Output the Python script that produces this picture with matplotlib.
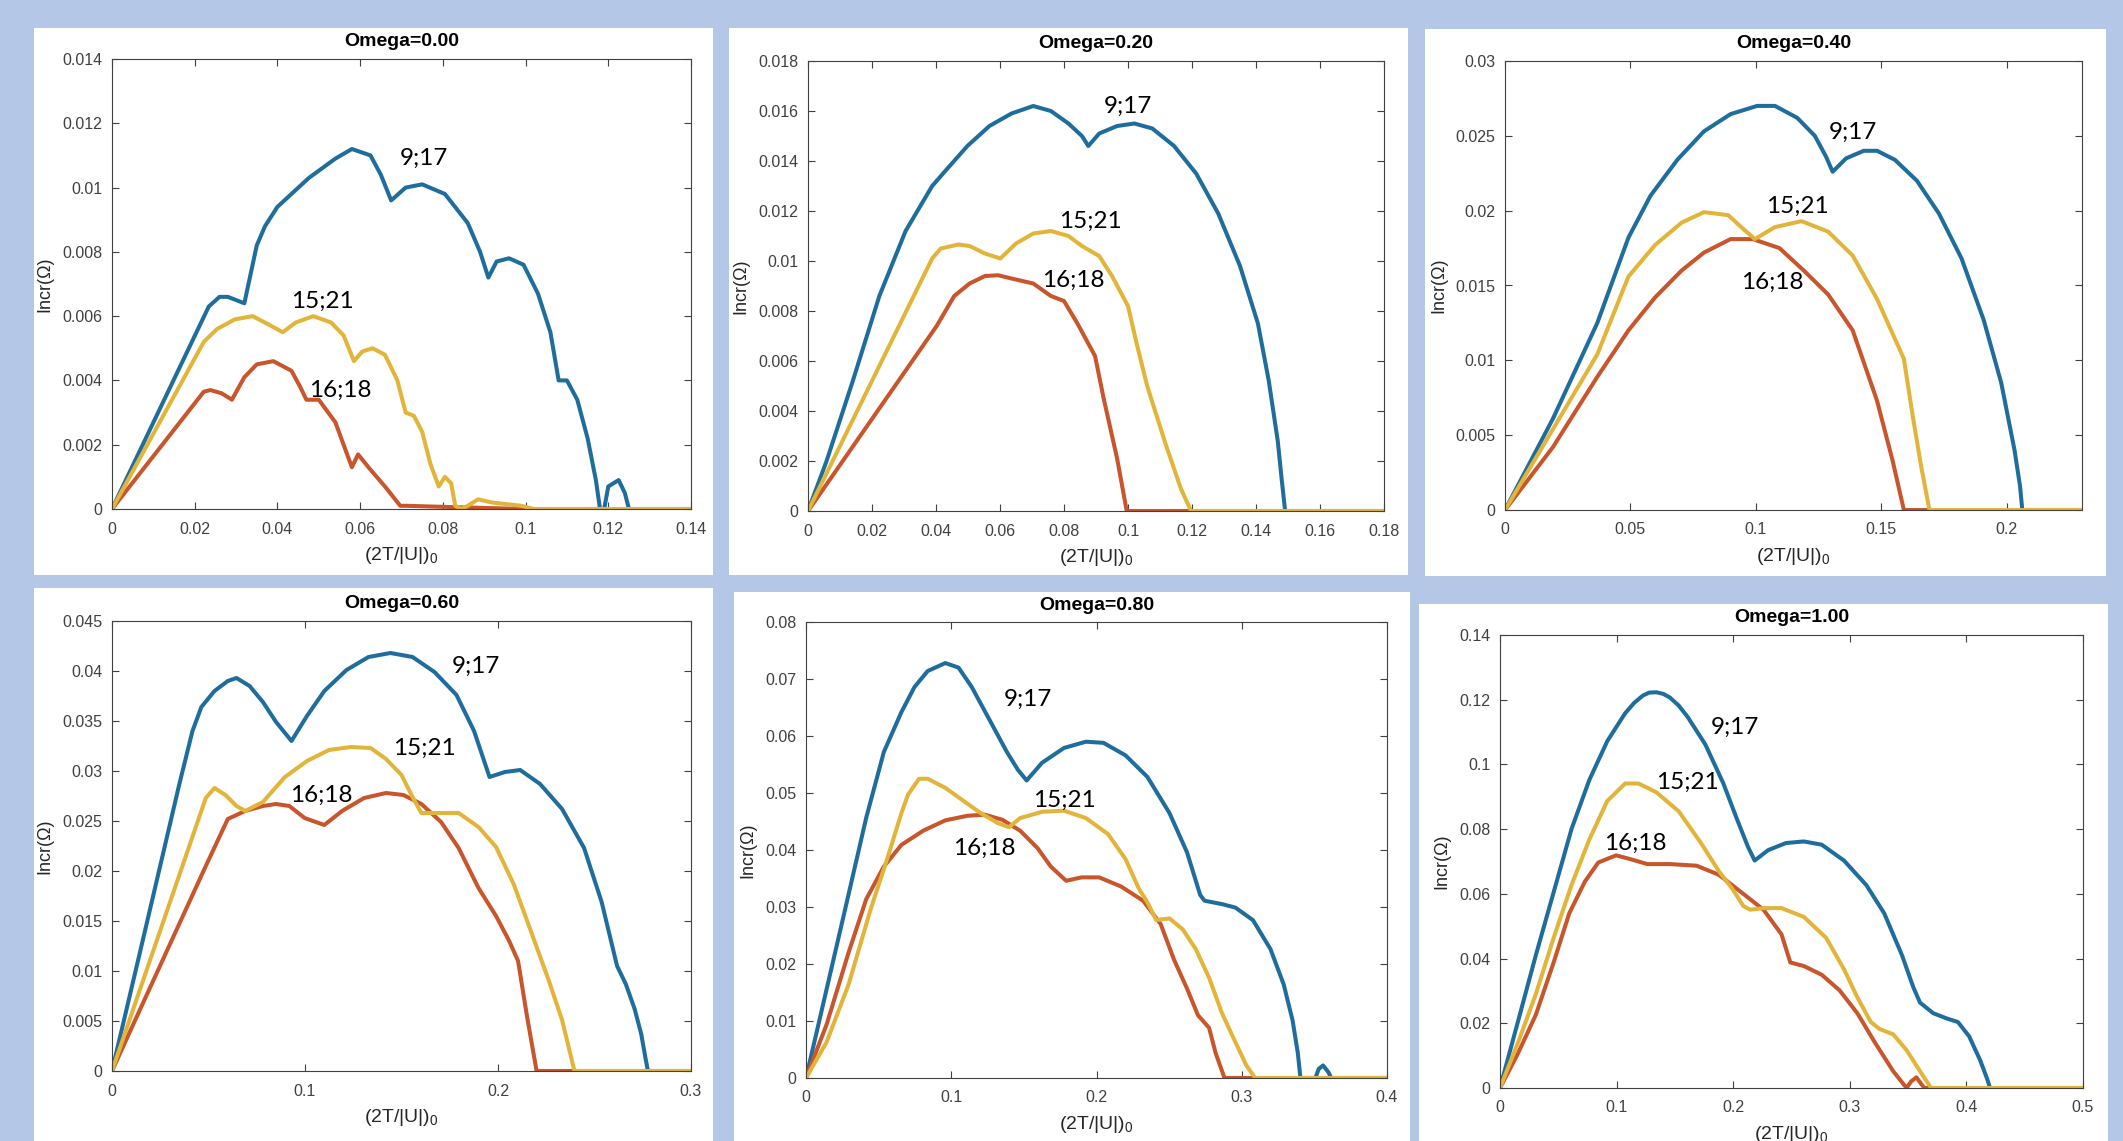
import matplotlib
matplotlib.use("Agg")
import matplotlib.pyplot as plt
from matplotlib.patches import Rectangle
from matplotlib.ticker import FuncFormatter

# ---- data ----------------------------------------------------------------
OMEGAS = [0.00, 0.20, 0.40, 0.60, 0.80, 1.00]
XMAX = [0.14, 0.18, 0.23, 0.3, 0.4, 0.5]
YMAX = [0.014, 0.018, 0.03, 0.045, 0.08, 0.14]
XSTEP = [0.02, 0.02, 0.05, 0.1, 0.1, 0.1]
YSTEP = [0.002, 0.002, 0.005, 0.005, 0.01, 0.02]
NAMES = ["9;17", "16;18", "15;21"]

# Omega = 0.00
X917_W0 = [0, 0.0234, 0.026, 0.028, 0.032, 0.035, 0.037, 0.04, 0.0476, 0.054, 0.058, 0.0625, 0.065,
           0.0675, 0.071, 0.075, 0.0805, 0.086, 0.089, 0.091, 0.093, 0.096, 0.0995, 0.103, 0.106, 0.108,
           0.11, 0.1125, 0.115, 0.117, 0.118, 0.119, 0.120, 0.1225, 0.124, 0.125, 0.14]
Y917_W0 = [0, 0.0063, 0.0066, 0.0066, 0.0064, 0.0082, 0.0088, 0.0094, 0.0103, 0.0109, 0.0112, 0.0110,
           0.0104, 0.0096, 0.0100, 0.0101, 0.0098, 0.0089, 0.0080, 0.0072, 0.0077, 0.0078, 0.0076,
           0.0067, 0.0055, 0.0040, 0.0040, 0.0034, 0.0022, 0.0009, 0, 0, 0.0007, 0.0009, 0.0005, 0, 0]
X1618_W0 = [0, 0.0222, 0.0238, 0.0265, 0.029, 0.032, 0.035, 0.039, 0.0434, 0.0455, 0.047, 0.050, 0.054,
            0.056, 0.058, 0.0595, 0.062, 0.066, 0.0697, 0.071, 0.085, 0.10, 0.14]
Y1618_W0 = [0, 0.00365, 0.0037, 0.0036, 0.0034, 0.0041, 0.0045, 0.0046, 0.0043, 0.0038, 0.0034, 0.0034,
            0.0027, 0.0020, 0.0013, 0.0017, 0.0013, 0.0007, 0.0001, 0.0001, 0.00005, 0, 0]
X1521_W0 = [0, 0.0222, 0.0254, 0.0297, 0.034, 0.037, 0.0413, 0.0444, 0.0487, 0.053, 0.056, 0.0585, 0.0605,
            0.063, 0.066, 0.069, 0.071, 0.073, 0.075, 0.077, 0.079, 0.0805, 0.082, 0.083, 0.0845, 0.086,
            0.0885, 0.092, 0.099, 0.102, 0.14]
Y1521_W0 = [0, 0.0052, 0.0056, 0.0059, 0.0060, 0.0058, 0.0055, 0.0058, 0.0060, 0.0058, 0.0054, 0.0046,
            0.0049, 0.0050, 0.0048, 0.0040, 0.0030, 0.0029, 0.0024, 0.0014, 0.0007, 0.0010, 0.0008,
            0.0001, 0, 0.0001, 0.0003, 0.0002, 0.0001, 0, 0]

# Omega = 0.20
X917_W2 = [0, 0.0058, 0.014, 0.0223, 0.0305, 0.0388, 0.0429, 0.0498, 0.0567, 0.0636, 0.0704, 0.0759,
           0.0814, 0.0856, 0.0876, 0.091, 0.0966, 0.102, 0.1076, 0.1144, 0.1213, 0.1282, 0.135, 0.1406,
           0.144, 0.1468, 0.148, 0.1491, 0.18]
Y917_W2 = [0, 0.0020, 0.0052, 0.0086, 0.0112, 0.0130, 0.0136, 0.0146, 0.0154, 0.0159, 0.0162, 0.0160,
           0.0155, 0.0150, 0.0146, 0.0151, 0.0154, 0.0155, 0.0153, 0.0146, 0.0135, 0.0119, 0.0098,
           0.0075, 0.0052, 0.0028, 0.0013, 0, 0]
X1618_W2 = [0, 0.0402, 0.0457, 0.0505, 0.0553, 0.0594, 0.0636, 0.0704, 0.0759, 0.080, 0.0842, 0.0897,
            0.0924, 0.0966, 0.0996, 0.18]
Y1618_W2 = [0, 0.0074, 0.0086, 0.0091, 0.0094, 0.00943, 0.0093, 0.0091, 0.0086, 0.0084, 0.0075, 0.0062,
            0.0045, 0.0021, 0, 0]
X1521_W2 = [0, 0.0388, 0.0415, 0.047, 0.0505, 0.0553, 0.0601, 0.065, 0.0704, 0.0759, 0.0814, 0.0856,
            0.091, 0.095, 0.1, 0.1027, 0.106, 0.1117, 0.1165, 0.1197, 0.18]
Y1521_W2 = [0, 0.0101, 0.0105, 0.01066, 0.0106, 0.0103, 0.0101, 0.0107, 0.0111, 0.0112, 0.0110, 0.0106,
            0.0102, 0.0094, 0.0082, 0.0067, 0.0050, 0.0027, 0.0009, 0, 0]

# Omega = 0.40
X917_W4 = [0, 0.0191, 0.0368, 0.0492, 0.058, 0.0687, 0.0793, 0.0899, 0.1005, 0.1076, 0.1165, 0.1235,
           0.128, 0.1306, 0.136, 0.143, 0.1483, 0.1554, 0.1642, 0.173, 0.182, 0.1908, 0.1978, 0.2031,
           0.2053, 0.2062, 0.23]
Y917_W4 = [0, 0.0061, 0.0125, 0.0182, 0.0210, 0.0234, 0.0253, 0.02645, 0.0270, 0.0270, 0.0262, 0.0250,
           0.0236, 0.0226, 0.0235, 0.0240, 0.0240, 0.0234, 0.0220, 0.0198, 0.0168, 0.0127, 0.0085,
           0.0040, 0.0016, 0, 0]
X1618_W4 = [0, 0.0191, 0.0368, 0.0492, 0.0598, 0.0704, 0.0793, 0.0899, 0.0988, 0.1094, 0.1191, 0.1288,
            0.1386, 0.1483, 0.1545, 0.159, 0.23]
Y1618_W4 = [0, 0.0042, 0.0089, 0.0120, 0.0142, 0.0160, 0.0172, 0.0181, 0.0181, 0.0175, 0.0160, 0.0144,
            0.0120, 0.0073, 0.0033, 0, 0]
X1521_W4 = [0, 0.0191, 0.0368, 0.0492, 0.0598, 0.0704, 0.0793, 0.089, 0.0935, 0.0996, 0.1076, 0.1182,
            0.1288, 0.1386, 0.1483, 0.159, 0.1625, 0.166, 0.1692, 0.23]
Y1521_W4 = [0, 0.0054, 0.0104, 0.0156, 0.0177, 0.0192, 0.0199, 0.0197, 0.0190, 0.0181, 0.0189, 0.0193,
            0.0186, 0.0170, 0.0141, 0.0101, 0.0063, 0.0028, 0, 0]

# Omega = 0.60
X917_W6 = [0, 0.0144, 0.0258, 0.0349, 0.0417, 0.0463, 0.0531, 0.060, 0.0645, 0.0713, 0.0782, 0.085,
           0.093, 0.101, 0.110, 0.1215, 0.1329, 0.1443, 0.1557, 0.1671, 0.1785, 0.1876, 0.1956, 0.2036,
           0.2115, 0.2218, 0.2332, 0.2446, 0.2537, 0.2617, 0.2662, 0.2708, 0.2742, 0.2765, 0.2777, 0.3]
Y917_W6 = [0, 0.0118, 0.0212, 0.0287, 0.0340, 0.0364, 0.0380, 0.0390, 0.0393, 0.0385, 0.0369, 0.0349,
           0.0330, 0.0355, 0.0380, 0.0401, 0.0414, 0.0418, 0.0414, 0.0399, 0.0376, 0.0340, 0.0294,
           0.0299, 0.0301, 0.0287, 0.0262, 0.0223, 0.0169, 0.0105, 0.0087, 0.0062, 0.0037, 0.0012, 0, 0]
X1618_W6 = [0, 0.0144, 0.0258, 0.0372, 0.0486, 0.060, 0.069, 0.0782, 0.085, 0.0919, 0.0998, 0.110,
            0.1192, 0.1306, 0.142, 0.151, 0.1603, 0.1705, 0.1796, 0.1899, 0.199, 0.2058, 0.2104, 0.215,
            0.220, 0.3]
Y1618_W6 = [0, 0.0061, 0.0109, 0.0157, 0.0205, 0.0252, 0.0260, 0.0265, 0.0267, 0.0265, 0.0253, 0.0246,
            0.0260, 0.0273, 0.0278, 0.0276, 0.0267, 0.0249, 0.0223, 0.0183, 0.0155, 0.0130, 0.0110,
            0.0055, 0, 0]
X1521_W6 = [0, 0.0144, 0.0258, 0.0372, 0.0486, 0.0531, 0.0588, 0.0645, 0.069, 0.0782, 0.0896, 0.101,
            0.1124, 0.1238, 0.134, 0.142, 0.15, 0.1557, 0.1603, 0.1694, 0.1796, 0.1899, 0.199, 0.2081,
            0.2172, 0.2264, 0.2332, 0.2396, 0.3]
Y1521_W6 = [0, 0.0081, 0.0145, 0.0209, 0.0273, 0.0283, 0.0276, 0.0265, 0.0260, 0.0269, 0.0294, 0.0310,
            0.0321, 0.0324, 0.0323, 0.0312, 0.0296, 0.0274, 0.0258, 0.0258, 0.0258, 0.0244, 0.0224,
            0.0187, 0.0139, 0.0090, 0.0051, 0, 0]

# Omega = 0.80
X917_W8 = [0, 0.0142, 0.0263, 0.0415, 0.0536, 0.0657, 0.0747, 0.0838, 0.0959, 0.105, 0.1141, 0.1262,
           0.1383, 0.1458, 0.1519, 0.1625, 0.1776, 0.1927, 0.2048, 0.22, 0.2351, 0.2502, 0.2623, 0.2714,
           0.2744, 0.2865, 0.2956, 0.3077, 0.3198, 0.3289, 0.335, 0.3386, 0.3404, 0.3507, 0.353, 0.356,
           0.3597, 0.3616, 0.4]
Y917_W8 = [0, 0.0156, 0.0289, 0.0457, 0.0572, 0.0642, 0.0686, 0.0714, 0.0728, 0.0720, 0.0686, 0.0629,
           0.0572, 0.0541, 0.0522, 0.0553, 0.0579, 0.0590, 0.0588, 0.0566, 0.0528, 0.0465, 0.0396,
           0.0321, 0.0311, 0.0305, 0.0299, 0.0277, 0.0226, 0.0164, 0.0101, 0.0044, 0, 0, 0.0016, 0.0022,
           0.0010, 0, 0]
X1618_W8 = [0, 0.0142, 0.0293, 0.0415, 0.0536, 0.0657, 0.0808, 0.0959, 0.111, 0.1231, 0.1352, 0.1474,
            0.1595, 0.1685, 0.1791, 0.1897, 0.2018, 0.2169, 0.2321, 0.2442, 0.2533, 0.2623, 0.2699,
            0.2775, 0.282, 0.2881, 0.4]
Y1618_W8 = [0, 0.0094, 0.0220, 0.0314, 0.0371, 0.0409, 0.0434, 0.0452, 0.0460, 0.0462, 0.0453, 0.0434,
            0.0403, 0.0371, 0.0346, 0.0352, 0.0352, 0.0336, 0.0311, 0.0270, 0.0208, 0.0157, 0.0110,
            0.0088, 0.0044, 0, 0]
X1521_W8 = [0, 0.0142, 0.0293, 0.0445, 0.0566, 0.0657, 0.0702, 0.0778, 0.0838, 0.0959, 0.108, 0.1201,
            0.1322, 0.1398, 0.1474, 0.1625, 0.1776, 0.1927, 0.2079, 0.22, 0.229, 0.2351, 0.2411, 0.2502,
            0.2593, 0.2684, 0.2775, 0.2865, 0.2956, 0.3032, 0.3092, 0.4]
Y1521_W8 = [0, 0.0063, 0.0164, 0.0296, 0.0390, 0.0465, 0.0497, 0.0525, 0.0525, 0.0509, 0.0487, 0.0465,
            0.0447, 0.0440, 0.0456, 0.0467, 0.0469, 0.0456, 0.0428, 0.0384, 0.0333, 0.0308, 0.0277,
            0.0280, 0.0261, 0.0226, 0.0176, 0.0113, 0.0063, 0.0022, 0, 0]

# Omega = 1.00
X917_W10 = [0, 0.0153, 0.0307, 0.046, 0.0613, 0.0766, 0.092, 0.1073, 0.115, 0.1226, 0.128, 0.1341, 0.14,
            0.1456, 0.153, 0.1609, 0.1762, 0.1916, 0.203, 0.2126, 0.2184, 0.2299, 0.2452, 0.2605, 0.2759,
            0.295, 0.3142, 0.3295, 0.3448, 0.3544, 0.3602, 0.3716, 0.3831, 0.3927, 0.4023, 0.4119,
            0.4176, 0.4203, 0.5]
Y917_W10 = [0, 0.0204, 0.0410, 0.0605, 0.0800, 0.0952, 0.1072, 0.1158, 0.1190, 0.1213, 0.1222, 0.1223,
            0.1218, 0.1207, 0.1183, 0.1147, 0.1061, 0.0941, 0.0833, 0.0746, 0.0703, 0.0735, 0.0757,
            0.0762, 0.0752, 0.0703, 0.0627, 0.0540, 0.0410, 0.0312, 0.0264, 0.0231, 0.0215, 0.0204,
            0.0160, 0.0085, 0.0030, 0, 0]
X1618_W10 = [0, 0.0153, 0.0307, 0.046, 0.0594, 0.0728, 0.0843, 0.0996, 0.1111, 0.1264, 0.1456, 0.1686,
             0.1877, 0.2069, 0.226, 0.2414, 0.249, 0.2605, 0.2759, 0.2912, 0.3065, 0.3218, 0.3372,
             0.3487, 0.3525, 0.3571, 0.362, 0.364, 0.5]
Y1618_W10 = [0, 0.0106, 0.0226, 0.0388, 0.0540, 0.0638, 0.0697, 0.0719, 0.0708, 0.0692, 0.0692, 0.0687,
             0.0659, 0.0605, 0.0551, 0.0475, 0.0388, 0.0377, 0.0350, 0.0302, 0.0231, 0.0139, 0.0052, 0,
             0.0020, 0.0033, 0.0009, 0, 0]
X1521_W10 = [0, 0.0153, 0.0307, 0.046, 0.0613, 0.0766, 0.092, 0.1073, 0.1188, 0.1341, 0.1533, 0.1724,
             0.1877, 0.1992, 0.2088, 0.2146, 0.226, 0.2414, 0.2605, 0.2797, 0.295, 0.3065, 0.318, 0.3257,
             0.3372, 0.3487, 0.3602, 0.3697, 0.5]
Y1521_W10 = [0, 0.0139, 0.0290, 0.0464, 0.0627, 0.0768, 0.0887, 0.0941, 0.0941, 0.0914, 0.0855, 0.0757,
             0.0670, 0.0616, 0.0562, 0.0551, 0.0556, 0.0556, 0.0529, 0.0464, 0.0367, 0.0280, 0.0204,
             0.0182, 0.0166, 0.0117, 0.0052, 0, 0]

# where the curve names sit (x, y) for 9;17, 16;18, 15;21
LABEL_POS = [
    [(0.0755, 0.0109), (0.0553, 0.0037), (0.0508, 0.00646)],
    [(0.100, 0.0162), (0.0828, 0.00924), (0.0883, 0.0116)],
    [(0.1386, 0.0252), (0.1067, 0.0152), (0.1165, 0.0203)],
    [(0.1887, 0.0405), (0.1083, 0.0276), (0.1618, 0.0323)],
    [(0.1528, 0.0664), (0.1225, 0.0403), (0.1776, 0.0487)],
    [(0.2011, 0.1115), (0.1161, 0.0757), (0.1609, 0.0944)],
]

CURVES = [
    [(X917_W0, Y917_W0), (X1618_W0, Y1618_W0), (X1521_W0, Y1521_W0)],
    [(X917_W2, Y917_W2), (X1618_W2, Y1618_W2), (X1521_W2, Y1521_W2)],
    [(X917_W4, Y917_W4), (X1618_W4, Y1618_W4), (X1521_W4, Y1521_W4)],
    [(X917_W6, Y917_W6), (X1618_W6, Y1618_W6), (X1521_W6, Y1521_W6)],
    [(X917_W8, Y917_W8), (X1618_W8, Y1618_W8), (X1521_W8, Y1521_W8)],
    [(X917_W10, Y917_W10), (X1618_W10, Y1618_W10), (X1521_W10, Y1521_W10)],
]

# ---- layout (pixels of the 2123x1141 picture) -----------------------------
W, H = 2123, 1141
COLORS = ["#1f6d9c", "#c8552b", "#e3b43a"]
BG = "#b4c7e7"
# white cards: left, top, right, bottom
CARDS = [(34, 28, 713, 575), (729, 28, 1408, 575), (1425, 29, 2106, 576),
         (34, 588, 713, 1141), (734, 592, 1410, 1141), (1419, 604, 2108, 1141)]
# axes boxes: left, top, right, bottom
AXES = [(112, 59, 691, 509), (808, 61, 1384, 511), (1505, 61, 2082, 510),
        (112, 621, 691, 1071), (806, 622, 1387, 1078), (1500, 635, 2083, 1088)]

plt.rcParams["font.family"] = ["Liberation Sans", "DejaVu Sans"]

fig = plt.figure(figsize=(W / 100, H / 100), dpi=100)
fig.patch.set_facecolor(BG)

for l, t, r, b in CARDS:
    fig.add_artist(Rectangle((l / W, 1 - b / H), (r - l) / W, (b - t) / H,
                             transform=fig.transFigure, facecolor="white",
                             edgecolor="none", zorder=-5))

fmt = FuncFormatter(lambda v, pos: "%g" % round(v, 6))

for i, (l, t, r, b) in enumerate(AXES):
    ax = fig.add_axes([l / W, 1 - b / H, (r - l) / W, (b - t) / H])
    for (xs, ys), c in zip(CURVES[i], COLORS):
        ax.plot(xs, ys, color=c, lw=2.9, solid_joinstyle="round")
    for name, (lx, ly) in zip(NAMES, LABEL_POS[i]):
        ax.text(lx, ly, name, family="Lato", fontsize=17.5, ha="center", va="center",
                color="black")

    ax.set_xlim(0, XMAX[i])
    ax.set_ylim(0, YMAX[i])
    nx = int(round(XMAX[i] / XSTEP[i] + 1e-9))
    ny = int(round(YMAX[i] / YSTEP[i]))
    ax.set_xticks([k * XSTEP[i] for k in range(nx + 1) if k * XSTEP[i] <= XMAX[i] + 1e-9])
    ax.set_yticks([k * YSTEP[i] for k in range(ny + 1)])
    ax.xaxis.set_major_formatter(fmt)
    ax.yaxis.set_major_formatter(fmt)
    ax.tick_params(direction="in", top=True, right=True, length=5, width=0.8,
                   labelsize=11.5, colors="#404040")
    ax.tick_params(axis="x", pad=9)
    ax.tick_params(axis="y", pad=7)
    for s in ax.spines.values():
        s.set_color("#404040")
        s.set_linewidth(0.8)

    ax.set_title("Omega=%.2f" % OMEGAS[i], fontsize=14, fontweight="bold", pad=9)
    ax.set_ylabel("Incr(\u03a9)", fontsize=13, color="#262626", labelpad=6)
    ax.set_xlabel(r"(2T/|U|)$_\mathregular{0}$", fontsize=14, color="#262626", labelpad=6)

fig.savefig("out.png", dpi=100, facecolor=BG)
